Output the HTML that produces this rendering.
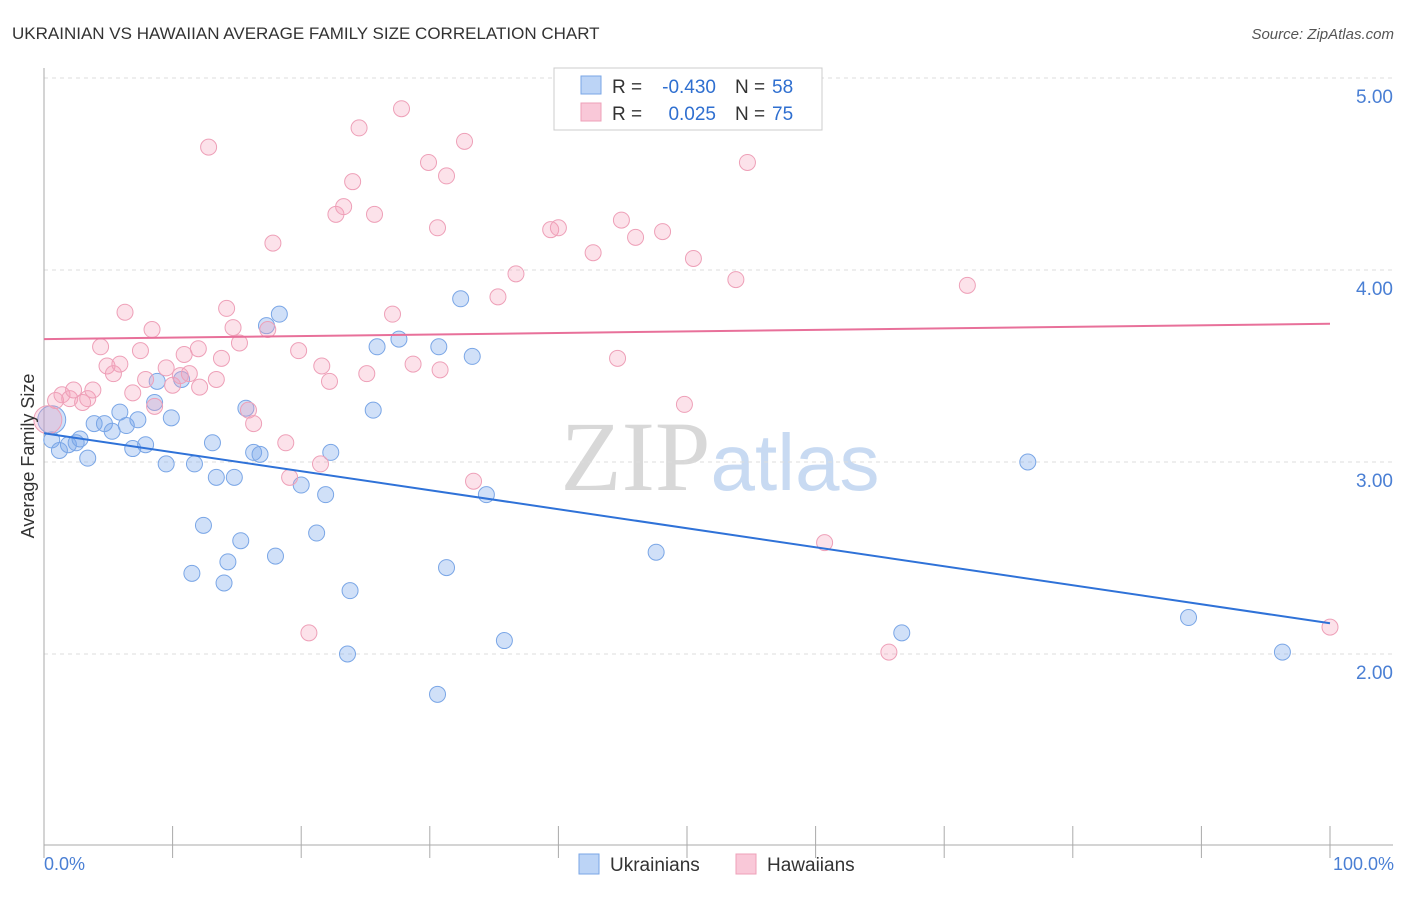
<!DOCTYPE html>
<html><head><meta charset="utf-8"><style>
body{margin:0;background:#fff;font-family:"Liberation Sans",sans-serif}
svg text{font-family:"Liberation Sans",sans-serif}
</style></head><body>
<svg id="chart" width="1406" height="892" xmlns="http://www.w3.org/2000/svg">
<text x="12" y="39" font-size="17" fill="#333">UKRAINIAN VS HAWAIIAN AVERAGE FAMILY SIZE CORRELATION CHART</text>
<text x="1394" y="39" font-size="15" fill="#555" font-style="italic" text-anchor="end">Source: ZipAtlas.com</text>
<text x="720" y="490" font-size="100" text-anchor="middle"><tspan fill="#d8d8d8" font-family="Liberation Serif">ZIP</tspan><tspan fill="#c8daf2" font-size="80">atlas</tspan></text>
<g id="grid"></g>
<g id="axes"></g>
<g id="pts"></g>
<g id="lines"></g>
<text transform="translate(34,456) rotate(-90)" font-size="18" fill="#333" text-anchor="middle">Average Family Size</text>
<text x="44" y="870" font-size="18" fill="#4a7fd4">0.0%</text>
<text x="1394" y="870" font-size="18" fill="#4a7fd4" text-anchor="end">100.0%</text>
<g>
<rect x="554" y="68" width="268" height="62" fill="#fff" stroke="#ccc"/>
<rect x="581" y="76" width="20" height="18" fill="#bcd4f6" stroke="#7aa6e6"/>
<rect x="581" y="103" width="20" height="18" fill="#f9c8d8" stroke="#eea0b8"/>
<text x="612" y="93" font-size="19" fill="#333">R =</text>
<text x="716" y="93" font-size="19" fill="#2f6fd0" text-anchor="end">-0.430</text>
<text x="735" y="93" font-size="19" fill="#333">N =</text>
<text x="772" y="93" font-size="19" fill="#2f6fd0">58</text>
<text x="612" y="120" font-size="19" fill="#333">R =</text>
<text x="716" y="120" font-size="19" fill="#2f6fd0" text-anchor="end">0.025</text>
<text x="735" y="120" font-size="19" fill="#333">N =</text>
<text x="772" y="120" font-size="19" fill="#2f6fd0">75</text>
</g>
<g>
<rect x="579" y="854" width="20" height="20" fill="#bcd4f6" stroke="#7aa6e6"/>
<text x="610" y="871" font-size="19" fill="#333">Ukrainians</text>
<rect x="736" y="854" width="20" height="20" fill="#f9c8d8" stroke="#eea0b8"/>
<text x="767" y="871" font-size="19" fill="#333">Hawaiians</text>
</g>
</svg>
<script>
const yTicks=[5,4,3,2];
const yTickLabels=["5.00","4.00","3.00","2.00"];
const xTicks=[0,10,20,30,40,50,60,70,80,90,100];
const ukrX=[0.6,0.6,1.2,1.9,2.5,2.8,3.4,3.9,4.7,5.3,5.9,6.4,6.9,7.3,7.9,8.6,8.8,9.5,9.9,10.7,11.5,11.7,12.4,13.1,13.4,14.0,14.3,14.8,15.3,15.7,16.3,16.8,17.3,18.0,18.3,20.0,21.2,21.9,22.3,23.6,23.8,25.6,25.9,27.6,30.6,30.7,31.3,32.4,33.3,34.4,35.8,47.6,66.7,76.5,89.0,96.3];
const ukrY=[3.22,3.115,3.06,3.09,3.10,3.12,3.02,3.20,3.20,3.16,3.26,3.19,3.07,3.22,3.09,3.31,3.42,2.99,3.23,3.43,2.42,2.99,2.67,3.10,2.92,2.37,2.48,2.92,2.59,3.28,3.05,3.04,3.71,2.51,3.77,2.88,2.63,2.83,3.05,2.00,2.33,3.27,3.60,3.64,1.79,3.60,2.45,3.85,3.55,2.83,2.07,2.53,2.11,3.00,2.19,2.01];
const hawX=[0.3,0.9,1.4,2.0,2.3,3.0,3.4,3.8,4.4,4.9,5.4,5.9,6.3,6.9,7.5,7.9,8.4,8.6,9.5,10.0,10.6,10.9,11.3,12.0,12.1,12.8,13.4,13.8,14.2,14.7,15.2,15.9,16.3,17.4,17.8,18.8,19.1,19.8,20.6,21.5,21.6,22.2,22.7,23.3,24.0,24.5,25.1,25.7,27.1,27.8,28.7,29.9,30.6,30.8,31.3,32.7,33.4,35.3,36.7,39.4,40.0,42.7,44.6,44.9,46.0,48.1,49.8,50.5,53.8,54.7,60.7,65.7,71.8,100];
const hawY=[3.22,3.32,3.35,3.33,3.375,3.31,3.33,3.375,3.60,3.50,3.46,3.51,3.78,3.36,3.58,3.43,3.69,3.29,3.49,3.40,3.45,3.56,3.46,3.59,3.39,4.64,3.43,3.54,3.80,3.70,3.62,3.27,3.20,3.69,4.14,3.10,2.92,3.58,2.11,2.99,3.50,3.42,4.29,4.33,4.46,4.74,3.46,4.29,3.77,4.84,3.51,4.56,4.22,3.48,4.49,4.67,2.90,3.86,3.98,4.21,4.22,4.09,3.54,4.26,4.17,4.20,3.30,4.06,3.95,4.56,2.58,2.01,3.92,2.14];
const ukrTrend=[3.15,2.16];
const hawTrend=[3.64,3.72];
const NS="http://www.w3.org/2000/svg";
const sx=v=>44+v*12.86, sy=v=>78+(5-v)*192;
function mk(tag,attrs,parent){const e=document.createElementNS(NS,tag);for(const k in attrs)e.setAttribute(k,attrs[k]);parent.appendChild(e);return e;}
const grid=document.getElementById('grid'),axes=document.getElementById('axes'),pts=document.getElementById('pts'),lines=document.getElementById('lines');
yTicks.forEach((t,i)=>{
 const l=mk('line',{x1:44,x2:1393,y1:sy(t),y2:sy(t),stroke:'#ddd','stroke-dasharray':'4,4'},grid);
 
 
 const tx=mk('text',{x:1393,y:sy(t)+25,'font-size':19,fill:'#4a7fd4','text-anchor':'end'},axes);
 tx.textContent=yTickLabels[i];
 
 
});
const ax=mk('line',{x1:44,x2:1393,y1:845,y2:845,stroke:'#aaa'},axes);


const ay=mk('line',{x1:44,x2:44,y1:68,y2:845,stroke:'#aaa'},axes);


xTicks.forEach(t=>{
 const l=mk('line',{x1:sx(t),x2:sx(t),y1:826,y2:858,stroke:'#aaa'},axes);
 
 
});
ukrX.forEach((x,i)=>{
 const c=mk('circle',{cx:sx(x),cy:sy(ukrY[i]),r:i===0?14:8,fill:'rgba(120,165,235,0.35)',stroke:'#7aa6e6','stroke-width':1},pts);
 
 
});
hawX.forEach((x,i)=>{
 const c=mk('circle',{cx:sx(x),cy:sy(hawY[i]),r:i===0?14:8,fill:'rgba(245,160,185,0.3)',stroke:'#eea0b8','stroke-width':1},pts);
 
 
});
const bl=mk('line',{x1:sx(0),x2:sx(100),y1:sy(ukrTrend[0]),y2:sy(ukrTrend[1]),stroke:'#2f72d8','stroke-width':2},lines);


const pl=mk('line',{x1:sx(0),x2:sx(100),y1:sy(hawTrend[0]),y2:sy(hawTrend[1]),stroke:'#e8709a','stroke-width':2},lines);


</script>
</body></html>
